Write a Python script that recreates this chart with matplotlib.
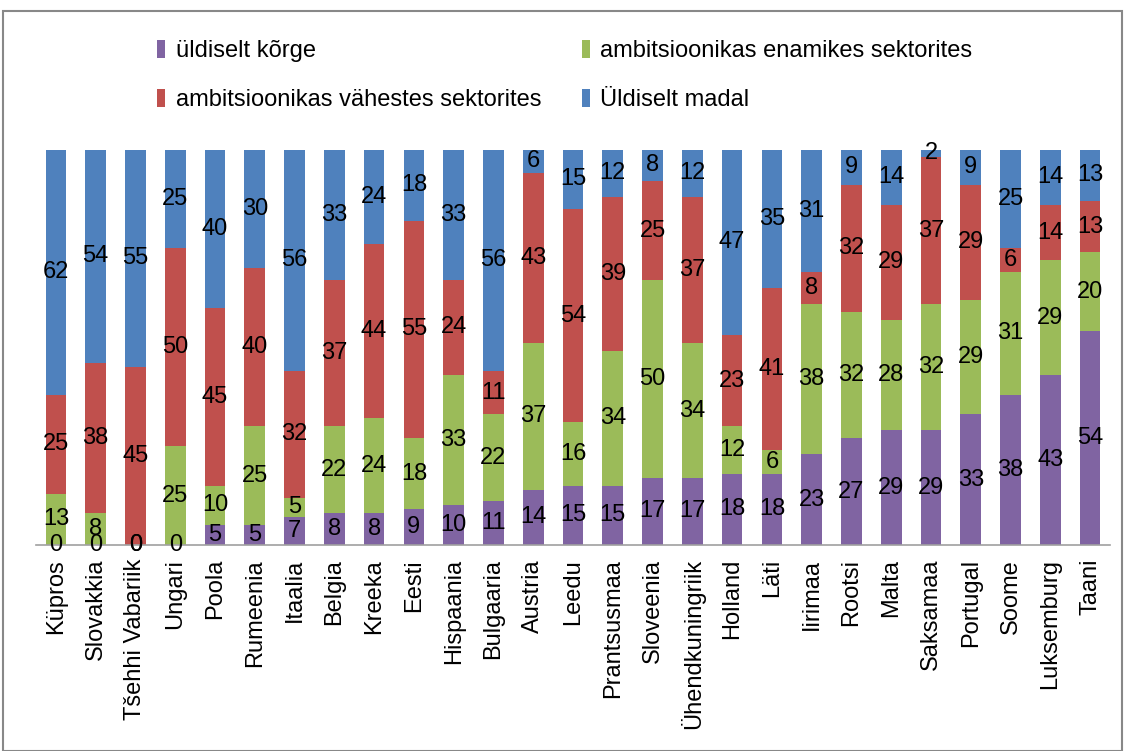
import matplotlib
matplotlib.use("Agg")
import matplotlib.pyplot as plt
from matplotlib.patches import Rectangle
import numpy as np

plt.rcParams['font.family'] = ['Liberation Sans', 'DejaVu Sans']

countries = ["Küpros", "Slovakkia", "Tšehhi Vabariik", "Ungari", "Poola", "Rumeenia",
             "Itaalia", "Belgia", "Kreeka", "Eesti", "Hispaania", "Bulgaaria", "Austria",
             "Leedu", "Prantsusmaa", "Sloveenia", "Ühendkuningriik", "Holland", "Läti",
             "Iirimaa", "Rootsi", "Malta", "Saksamaa", "Portugal", "Soome", "Luksemburg", "Taani"]

korge =    [0, 0, 0, 0, 5, 5, 7, 8, 8, 9, 10, 11, 14, 15, 15, 17, 17, 18, 18, 23, 27, 29, 29, 33, 38, 43, 54]
enamikes = [13, 8, 0, 25, 10, 25, 5, 22, 24, 18, 33, 22, 37, 16, 34, 50, 34, 12, 6, 38, 32, 28, 32, 29, 31, 29, 20]
vahestes = [25, 38, 45, 50, 45, 40, 32, 37, 44, 55, 24, 11, 43, 54, 39, 25, 37, 23, 41, 8, 32, 29, 37, 29, 6, 14, 13]
madal =    [62, 54, 55, 25, 40, 30, 56, 33, 24, 18, 33, 56, 6, 15, 12, 8, 12, 47, 35, 31, 9, 14, 2, 9, 25, 14, 13]

series_names = ["üldiselt kõrge", "ambitsioonikas enamikes sektorites",
                "ambitsioonikas vähestes sektorites", "Üldiselt madal"]
series_vals = [korge, enamikes, vahestes, madal]
colors = ["#8064A2", "#9BBB59", "#C0504D", "#4F81BD"]

W, H = 1125, 751
fig = plt.figure(figsize=(W / 100, H / 100), dpi=100)
ax = fig.add_axes([36 / W, 1 - 545 / H, (1110 - 36) / W, (545 - 149.5) / H])

x = np.arange(len(countries))
bottom = np.zeros(len(countries))
handles = []
for name, vals, c in zip(series_names, series_vals, colors):
    v = np.array(vals, dtype=float)
    b = ax.bar(x, v, bottom=bottom, width=0.52, color=c, label=name, linewidth=0)
    handles.append(b)
    for xi, bi, vi in zip(x, bottom, v):
        ax.text(xi, bi + vi / 2, f"{int(vi)}", ha="center", va="center",
                fontsize=17, color="black")
    bottom += v

ax.set_xlim(-0.5, len(countries) - 0.5)
ax.set_ylim(0, 100)
ax.set_yticks([])
ax.set_xticks(x)
ax.set_xticklabels(countries, rotation=90, fontsize=17)
ax.tick_params(axis="x", length=0, pad=10)
for s in ["top", "right", "left"]:
    ax.spines[s].set_visible(False)
ax.spines["bottom"].set_color("#A0A0A0")
ax.spines["bottom"].set_linewidth(1.2)
ax.set_facecolor("none")

order = [0, 2, 1, 3]
fig.legend([handles[i] for i in order], [series_names[i] for i in order],
           ncol=2, loc="upper left", bbox_to_anchor=(157 / W, 1 - 40 / H),
           frameon=False, fontsize=17, handlelength=0.35, handleheight=0.8,
           handletextpad=0.45, columnspacing=1.7, labelspacing=1.12,
           borderpad=0, borderaxespad=0)

fig.patches.append(Rectangle((3 / W, 0), 1 - 6 / W, 1 - 11 / H, transform=fig.transFigure,
                             fill=False, edgecolor="#888888", linewidth=1.5))

fig.savefig("out.png", dpi=100)
